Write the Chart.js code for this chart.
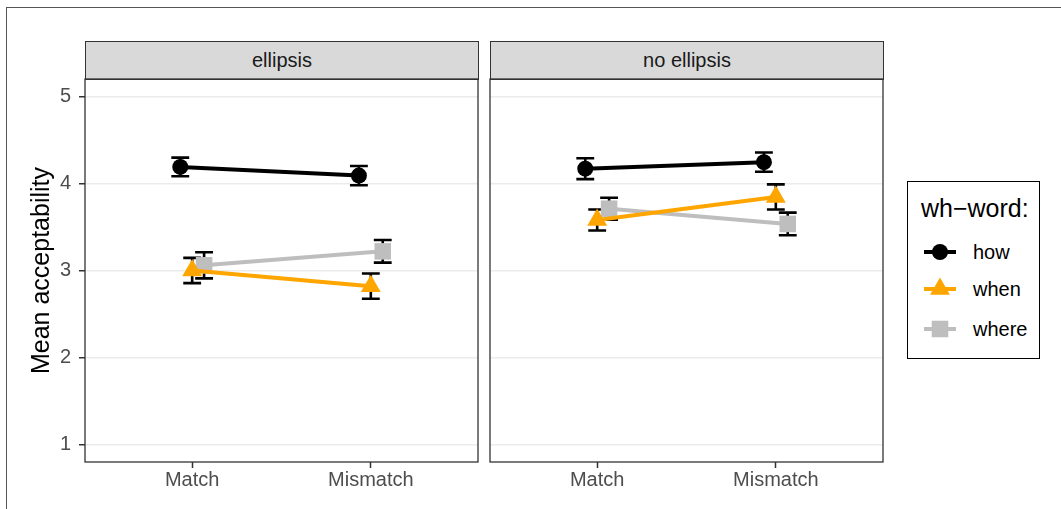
<!DOCTYPE html>
<html><head><meta charset="utf-8">
<script src="https://cdn.jsdelivr.net/npm/chart.js@4"></script>
<style>
html,body{margin:0;padding:0;background:#fff;}
#root{position:relative;width:1061px;height:509px;overflow:hidden;font-family:"Liberation Sans",Arial,Helvetica,sans-serif;}
.frame{position:absolute;left:6px;top:7px;width:1100px;height:600px;border-top:1.5px solid #555;border-left:1.5px solid #555;}
.strip{position:absolute;top:41px;height:39px;width:394px;background:#D9D9D9;border:1.3px solid #333;box-sizing:border-box;color:#1A1A1A;font-size:20px;text-align:center;line-height:37px;}
canvas{position:absolute;}
.legend{position:absolute;left:907px;top:181px;width:133px;height:178px;border:1.5px solid #000;box-sizing:border-box;}
.ltitle{position:absolute;left:13px;top:12px;font-size:25px;color:#000;white-space:nowrap;}
.litem{position:absolute;left:14px;height:24px;width:120px;}
.litem svg{position:absolute;left:0;top:0;}
.litem span{position:absolute;left:51px;top:0;font-size:20px;line-height:24px;color:#000;}
</style></head>
<body><div id="root">
<div class="frame"></div>
<div class="strip" style="left:85px;" id="strip1"></div>
<div class="strip" style="left:490px;" id="strip2"></div>
<canvas id="c1" width="460" height="439" style="left:20px;top:70px;"></canvas>
<canvas id="c2" width="410" height="439" style="left:480px;top:70px;"></canvas>
<div class="legend" id="legend"><div class="ltitle" id="ltitle"></div></div>
</div>
<script>
// ---- data ----
const categories = ['Match', 'Mismatch'];
const panels = ['ellipsis', 'no ellipsis'];
const series = ['how', 'when', 'where'];
const yTicks = [1, 2, 3, 4, 5];
const legendTitle = 'wh\u2212word:';
const yTitle = 'Mean acceptability';

// ellipsis panel: means and standard errors
const ellHow = [4.19, 4.09];
const ellWhen = [3.00, 2.82];
const ellWhere = [3.06, 3.22];
const ellHowSE = [0.107, 0.11];
const ellWhenSE = [0.145, 0.145];
const ellWhereSE = [0.15, 0.13];
// no ellipsis panel
const noHow = [4.17, 4.245];
const noWhen = [3.58, 3.845];
const noWhere = [3.71, 3.535];
const noHowSE = [0.12, 0.11];
const noWhenSE = [0.12, 0.145];
const noWhereSE = [0.125, 0.13];

// ---- styles ----
const colors = {how: '#000000', when: '#FFA500', where: '#BEBEBE'};
const shapes = {how: 'circle', when: 'triangle', where: 'rect'};
const radii = {how: 8, when: 11.5, where: 11.7};
const drawOrder = {how: 2, when: 0, where: 1};
const dodge = {how: -0.0667, when: 0, where: 0.0667};
const FONT = '"Liberation Sans", Arial, Helvetica, sans-serif';

document.getElementById('strip1').textContent = panels[0];
document.getElementById('strip2').textContent = panels[1];
document.getElementById('ltitle').textContent = legendTitle;

function makeDS(name, vals, errs) {
  return {
    label: name,
    data: vals.map((v, i) => ({x: i + 1 + dodge[name], y: v})),
    errs: errs,
    borderColor: colors[name],
    backgroundColor: colors[name],
    borderWidth: 4,
    pointStyle: shapes[name],
    pointRadius: radii[name],
    pointBorderWidth: 0,
    pointBackgroundColor: colors[name],
    order: drawOrder[name],
    tension: 0
  };
}

const errorBars = {
  id: 'errorBars',
  beforeDatasetsDraw(chart) {
    const ctx = chart.ctx, xs = chart.scales.x, ys = chart.scales.y;
    ctx.save();
    ctx.strokeStyle = '#000';
    ctx.lineWidth = 2.6;
    chart.data.datasets.forEach(ds => {
      ds.data.forEach((p, i) => {
        const e = ds.errs[i];
        const x = xs.getPixelForValue(p.x);
        const xl = xs.getPixelForValue(p.x - 0.05), xr = xs.getPixelForValue(p.x + 0.05);
        const yt = ys.getPixelForValue(p.y + e), yb = ys.getPixelForValue(p.y - e);
        ctx.beginPath();
        ctx.moveTo(x, yt); ctx.lineTo(x, yb);
        ctx.moveTo(xl, yt); ctx.lineTo(xr, yt);
        ctx.moveTo(xl, yb); ctx.lineTo(xr, yb);
        ctx.stroke();
      });
    });
    ctx.restore();
  }
};
const panelFrame = {
  id: 'panelFrame',
  afterDraw(chart) {
    const a = chart.chartArea, ctx = chart.ctx;
    ctx.save();
    ctx.strokeStyle = '#333';
    ctx.lineWidth = 1.3;
    ctx.strokeRect(a.left, a.top, a.right - a.left, a.bottom - a.top);
    ctx.restore();
  }
};

function zeroPad(s) { s.paddingTop = 0; s.paddingBottom = 0; s.paddingLeft = 0; s.paddingRight = 0; }

function makeChart(id, datasets, showY, yWidth, padRight) {
  return new Chart(document.getElementById(id), {
    type: 'line',
    data: {datasets},
    plugins: [errorBars, panelFrame],
    options: {
      responsive: false, animation: false, devicePixelRatio: 1,
      layout: {autoPadding: false, padding: {top: 9, right: padRight, left: 0, bottom: 0}},
      plugins: {legend: {display: false}, tooltip: {enabled: false}},
      scales: {
        x: {
          type: 'linear', min: 0.4, max: 2.6,
          afterBuildTicks: s => { s.ticks = categories.map((c, i) => ({value: i + 1})); },
          afterFit: s => { s.height = 47; zeroPad(s); },
          ticks: {callback: v => categories[Math.round(v) - 1], color: '#4D4D4D', font: {family: FONT, size: 20}, padding: 0, maxRotation: 0, autoSkip: false},
          grid: {drawOnChartArea: false, drawTicks: true, tickLength: 6, tickColor: '#333', tickWidth: 1.5},
          border: {display: false}
        },
        y: {
          type: 'linear', min: 0.8, max: 5.2,
          afterBuildTicks: s => { s.ticks = yTicks.map(v => ({value: v})); },
          afterFit: s => { s.width = yWidth; zeroPad(s); },
          ticks: {display: showY, color: '#4D4D4D', font: {family: FONT, size: 20}, padding: 8},
          grid: {color: '#EBEBEB', lineWidth: 1.5, drawTicks: showY, tickLength: 6, tickColor: '#333', tickWidth: 1.5},
          border: {display: false},
          title: {display: showY, text: yTitle, color: '#000', font: {family: FONT, size: 25}, padding: {top: 7, bottom: 0}}
        }
      }
    }
  });
}

makeChart('c1', [
  makeDS('how', ellHow, ellHowSE),
  makeDS('when', ellWhen, ellWhenSE),
  makeDS('where', ellWhere, ellWhereSE)
], true, 65, 2);
makeChart('c2', [
  makeDS('how', noHow, noHowSE),
  makeDS('when', noWhen, noWhenSE),
  makeDS('where', noWhere, noWhereSE)
], false, 10, 7);

// legend
const legend = document.getElementById('legend');
const tops = [58, 95, 135];
series.forEach((name, i) => {
  const item = document.createElement('div');
  item.className = 'litem';
  item.style.top = tops[i] + 'px';
  const c = colors[name];
  let mark;
  if (name === 'how') mark = `<circle cx="18" cy="12" r="8" fill="${c}"/>`;
  else if (name === 'when') { const r = radii.when; mark = `<polygon points="18,${12 - r} ${18 + r * 0.866},${12 + r / 2} ${18 - r * 0.866},${12 + r / 2}" fill="${c}"/>`; }
  else { const h = radii.where * 0.7071; mark = `<rect x="${18 - h}" y="${12 - h}" width="${2 * h}" height="${2 * h}" fill="${c}"/>`; }
  item.innerHTML = `<svg width="36" height="24"><line x1="2" y1="12" x2="34" y2="12" stroke="${c}" stroke-width="4"/>${mark}</svg><span>${name}</span>`;
  legend.appendChild(item);
});
</script>
</body></html>
